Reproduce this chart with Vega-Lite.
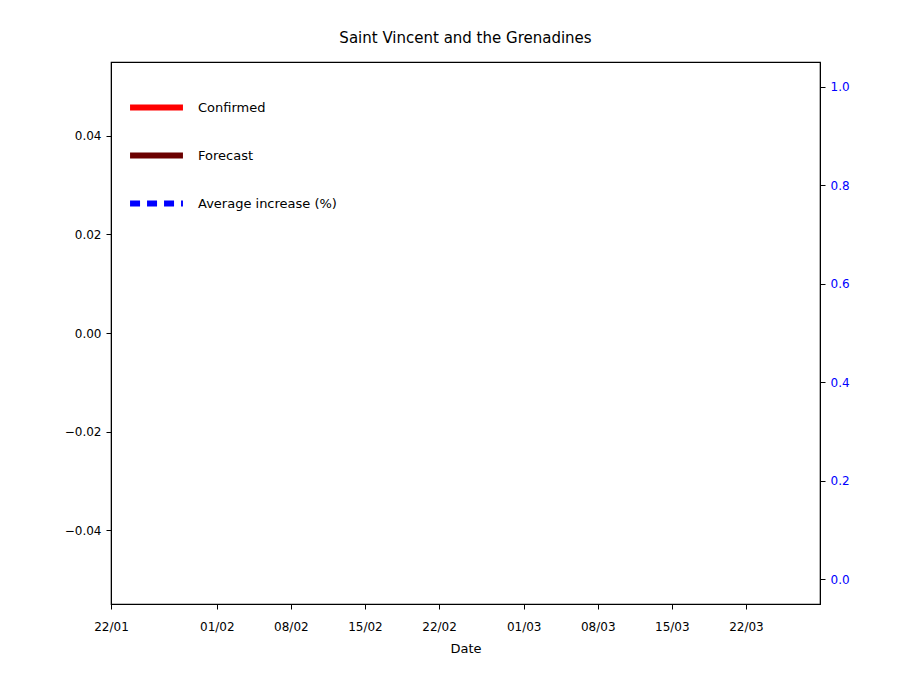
{
  "$schema": "https://vega.github.io/schema/vega-lite/v6.json",
  "width": 709,
  "height": 542,
  "autosize": "none",
  "padding": {"left": 111, "top": 62, "right": 80, "bottom": 96},
  "title": {"text": "Saint Vincent and the Grenadines", "font": "DejaVu Sans", "fontSize": 15, "fontWeight": "normal", "offset": 16},
  "data": {
    "values": [
      {"date": "2020-01-22", "series": "Confirmed", "value": 0, "pct": 0.5},
      {"date": "2020-01-22", "series": "Forecast", "value": 0, "pct": 0.5},
      {"date": "2020-01-22", "series": "Average increase (%)", "value": 0, "pct": 0.5}
    ]
  },
  "layer": [
    {
      "mark": {"type": "line"},
      "encoding": {
        "x": {
          "field": "date", "type": "temporal", "title": "Date",
          "scale": {"domain": ["2020-01-22", "2020-03-29"]},
          "axis": {
            "format": "%d/%m", "grid": false, "labelAngle": 0, "labelFlush": false, "labelPadding": 12, "titlePadding": 10,
            "values": ["2020-01-22", "2020-02-01", "2020-02-08", "2020-02-15", "2020-02-22", "2020-03-01", "2020-03-08", "2020-03-15", "2020-03-22"]
          }
        },
        "y": {
          "field": "value", "type": "quantitative", "title": null,
          "scale": {"domain": [-0.055, 0.055], "nice": false, "zero": false},
          "axis": {"values": [-0.04, -0.02, 0, 0.02, 0.04], "format": ".2f", "grid": false}
        },
        "color": {
          "field": "series", "type": "nominal", "title": null,
          "scale": {"domain": ["Confirmed", "Forecast", "Average increase (%)"], "range": ["#ff0000", "#6b0000", "#0000ff"]},
          "legend": {"orient": "top-left", "symbolType": "stroke", "symbolSize": 2800, "labelFontSize": 13, "labelFont": "DejaVu Sans", "rowPadding": 6, "labelOffset": 12, "offset": 16}
        },
        "strokeDash": {
          "field": "series", "type": "nominal",
          "scale": {"domain": ["Confirmed", "Forecast", "Average increase (%)"], "range": [[1, 0], [1, 0], [10, 7]]}
        },
        "strokeWidth": {
          "field": "series", "type": "nominal",
          "scale": {"domain": ["Confirmed", "Forecast", "Average increase (%)"], "range": [6, 6, 2.5]}
        }
      }
    },
    {
      "mark": {"type": "point", "opacity": 0},
      "encoding": {
        "x": {"field": "date", "type": "temporal"},
        "y": {
          "field": "pct", "type": "quantitative", "title": null,
          "scale": {"domain": [-0.05, 1.05], "nice": false, "zero": false},
          "axis": {"orient": "right", "values": [0, 0.2, 0.4, 0.6, 0.8, 1.0], "format": ".1f", "grid": false, "labelColor": "#0000ff", "tickColor": "#000000"}
        }
      }
    }
  ],
  "resolve": {"scale": {"y": "independent"}},
  "config": {
    "view": {"stroke": "#000000", "strokeWidth": 1.2},
    "axis": {
      "labelFont": "DejaVu Sans", "labelFontSize": 12, "labelColor": "#000000",
      "titleFont": "DejaVu Sans", "titleFontSize": 13, "titleFontWeight": "normal",
      "domainColor": "#000000", "tickColor": "#000000", "tickSize": 5, "labelPadding": 5
    }
  }
}
